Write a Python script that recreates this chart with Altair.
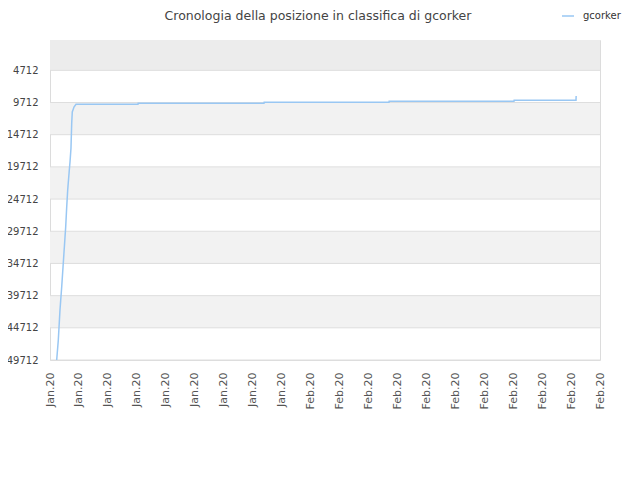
import altair as alt
import pandas as pd

# ---- data ----
chart_title = "Cronologia della posizione in classifica di gcorker"
series_name = "gcorker"
x_pos = [0.231, 0.287, 0.345, 0.404, 0.459, 0.542, 0.577, 0.611, 0.667, 0.691,
         0.725, 0.750, 0.770, 0.829, 0.898, 3.040, 3.045, 7.393, 7.398,
         11.711, 11.716, 16.029, 16.034, 18.171, 18.176]
ranks = [49712, 46605, 41945, 38371, 34643, 29050, 25940, 23303, 20196, 18953,
         16778, 12894, 11185, 10408, 9989, 9989, 9834, 9834, 9678,
         9678, 9523, 9523, 9368, 9368, 8700]

tick_positions = list(range(20))
tick_months = ["Jan.20"] * 9 + ["Feb.20"] * 11
y_ticks = [4712, 9712, 14712, 19712, 24712, 29712, 34712, 39712, 44712, 49712]
band_start = [0, 9712, 19712, 29712, 39712]
band_end = [4712, 14712, 24712, 34712, 44712]
band_fill = ["#ececec", "#f2f2f2", "#f2f2f2", "#f2f2f2", "#f2f2f2"]

line_df = pd.DataFrame({"x": x_pos, "rank": ranks,
                        "idx": list(range(len(x_pos))),
                        "series": [series_name] * len(x_pos)})
band_df = pd.DataFrame({"y": band_start, "y2": band_end, "fill": band_fill})
grid_df = pd.DataFrame({"y": y_ticks})
title_df = pd.DataFrame({"t": [chart_title]})

label_expr = "[" + ",".join("'%s'" % m for m in tick_months) + "][round(datum.value)]"

x_scale = alt.Scale(domain=[0, 19], nice=False, zero=False)
y_scale = alt.Scale(domain=[0, 49712], reverse=True, nice=False, zero=False)

x_axis = alt.Axis(values=tick_positions, labelExpr=label_expr, title=None,
                  labelAngle=270, ticks=False, grid=False,
                  labelPadding=12, labelFontSize=11, labelColor="#555555",
                  domain=False, labelOverlap=False, labelFlush=False)
y_axis = alt.Axis(values=y_ticks, ticks=False, grid=False, domain=False, title=None,
                  labelPadding=12, labelFontSize=10, labelColor="#444444",
                  format="d", labelOverlap=False, labelFlush=False)

bands = alt.Chart(band_df).mark_rect().encode(
    x=alt.datum(0, scale=x_scale, axis=x_axis),
    x2=alt.datum(19),
    y=alt.Y("y:Q", scale=y_scale, axis=y_axis),
    y2="y2:Q",
    fill=alt.Fill("fill:N", scale=None),
)

grid = alt.Chart(grid_df).mark_rule(color="#dedede", strokeWidth=1).encode(
    y=alt.Y("y:Q", scale=y_scale, axis=y_axis),
)

line = alt.Chart(line_df).mark_line(strokeWidth=1.5, interpolate="linear").encode(
    x=alt.X("x:Q", scale=x_scale, axis=x_axis),
    y=alt.Y("rank:Q", scale=y_scale, axis=y_axis),
    color=alt.Color("series:N", title=None,
                    scale=alt.Scale(range=["#99c7f3"]),
                    legend=alt.Legend(orient="none", legendX=511, legendY=-31,
                                      symbolType="stroke", symbolSize=144,
                                      symbolStrokeWidth=1.5, labelFontSize=10,
                                      labelColor="#333333", labelOffset=8)),
    order="idx:Q",
)

title_text = alt.Chart(title_df).mark_text(
    fontSize=12.5, color="#444444", align="center", baseline="alphabetic"
).encode(text="t:N", x=alt.value(268), y=alt.value(-20))

chart = alt.layer(bands, grid, line, title_text).properties(
    width=550, height=320,
    autosize=alt.AutoSizeParams(type="none"),
    padding={"left": 42, "top": 32, "right": 30, "bottom": 70},
).configure(font="DejaVu Sans").configure_axis(labelOverlap=False).configure_view(
    stroke="#dcdcdc", strokeWidth=1)

chart.save("out.html", embed_options={"renderer": "svg", "actions": False})
